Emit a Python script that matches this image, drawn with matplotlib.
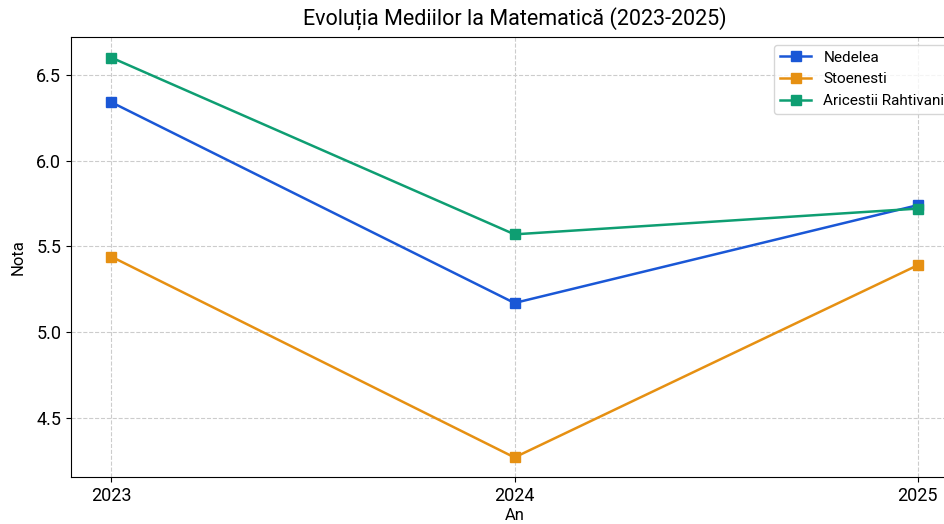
import matplotlib
matplotlib.use("Agg")
import matplotlib.pyplot as plt

plt.rcParams['font.family'] = ['Roboto', 'DejaVu Sans']

# Date
ani = [2023, 2024, 2025]
nedelea = [6.34, 5.17, 5.74]
stoenesti = [5.44, 4.27, 5.39]
aricestii = [6.60, 5.57, 5.72]

serii = ["Nedelea", "Stoenesti", "Aricestii Rahtivani"]
culori = ["#1a57d6", "#e69012", "#0e9e72"]

fig = plt.figure(figsize=(9.44, 5.24), dpi=100)
ax = fig.add_axes([71 / 944, 1 - 477 / 524, 887 / 944, 440 / 524])

for valori, nume, c in zip([nedelea, stoenesti, aricestii], serii, culori):
    ax.plot(ani, valori, marker='s', markersize=7, linewidth=1.8, color=c, label=nume)

ax.set_ylim(4.156, 6.72)
ax.set_xticks(ani)
ax.set_xticklabels([str(a) for a in ani])
ax.tick_params(labelsize=13)
ax.grid(True, linestyle='--', color='#cccccc', linewidth=0.8)
ax.set_title("Evoluția Mediilor la Matematică (2023-2025)", fontsize=15.5, pad=8)
ax.set_xlabel("An", fontsize=12, labelpad=2)
ax.set_ylabel("Nota", fontsize=12, labelpad=8)
ax.legend(loc='upper right', fontsize=11, frameon=True)

fig.savefig("out.png", dpi=100)
